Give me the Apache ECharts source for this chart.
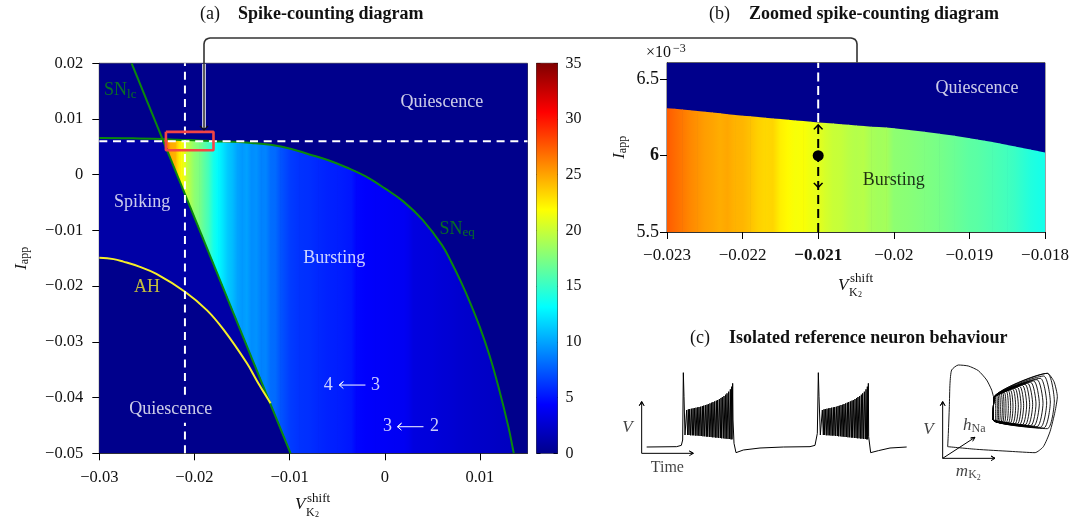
<!DOCTYPE html>
<html><head><meta charset="utf-8">
<style>html,body{margin:0;padding:0;background:#fff}#c{width:1085px;height:523px}</style>
<script src="https://cdn.jsdelivr.net/npm/echarts@6/dist/echarts.min.js"></script>
</head><body><div id="c"></div>
<script>
const SERIF = '"Liberation Serif","Times New Roman",serif';
const INK = '#111';
// colour scale
const jetStops = [[0,[0,0,140]],[0.125,[0,0,255]],[0.375,[0,255,255]],[0.625,[255,255,0]],[0.875,[255,0,0]],[1,[128,0,0]]];
const colorMax = 35;
// ticks
const mainXTicks = [-0.03,-0.02,-0.01,0,0.01];
const mainYTicks = [-0.05,-0.04,-0.03,-0.02,-0.01,0,0.01,0.02];
const barTicks = [0,5,10,15,20,25,30,35];
const zoomXTicks = [-0.023,-0.022,-0.021,-0.02,-0.019,-0.018];
const zoomYTicks = [5.5,6,6.5];
// bursting region: columns of the spike-count map
const burstX = [-0.0233,-0.023,-0.0228,-0.0225,-0.022,-0.0218,-0.0215,-0.0213,-0.021,-0.0208,-0.0205,-0.0203,-0.02,-0.0195,-0.019,-0.0185,-0.018,-0.0175,-0.017,-0.0165,-0.016,-0.0155,-0.015,-0.0145,-0.014,-0.0135,-0.013,-0.0125,-0.012,-0.0115,-0.011,-0.0105,-0.0099,-0.009,-0.008,-0.007,-0.006,-0.005,-0.004,-0.0035,-0.003,-0.002,-0.001,0,0.001,0.002,0.0025,0.003,0.004,0.005,0.006,0.007,0.008,0.009,0.01,0.011,0.012,0.013,0.0135];
const burstCount = [27.5,27.5,26.5,24.8,24.5,23.3,22.2,21.6,21,19.9,19.2,18.7,18,17.4,16.3,15.4,13.8,13,12.2,11.3,10.8,10,9.6,9.9,9.2,9.4,8.8,8.9,8.1,8,7.3,6.9,6.4,6.1,6,5.7,5.5,5.4,5.2,5.1,4.5,4.3,4.2,4.1,4,3.9,3.7,3.2,3.1,3,2.8,2.7,2.5,2.4,2.3,2.2,2.1,2,2];
const burstTop = [0.00632,0.00631,0.0063,0.00629,0.00627,0.00625,0.00624,0.00623,0.00622,0.00621,0.00619,0.00618,0.00617,0.00614,0.0061,0.00606,0.00602,0.006,0.00597,0.00594,0.00591,0.00587,0.00582,0.00577,0.00571,0.00564,0.00555,0.00546,0.00537,0.00525,0.00513,0.00499,0.00467,0.00417,0.00368,0.00318,0.00265,0.002,0.0013,0.00097,0.00062,-0.0003,-0.0013,-0.00245,-0.00365,-0.00487,-0.00565,-0.00645,-0.00815,-0.0102,-0.0126,-0.0157,-0.0192,-0.0231,-0.0274,-0.0324,-0.0384,-0.0453,-0.0495];
const burstBottom = [0.00617,0.00492,0.00408,0.00282,0.00073,-0.00011,-0.00137,-0.00221,-0.00346,-0.0043,-0.00556,-0.0064,-0.00765,-0.00975,-0.01184,-0.01394,-0.01603,-0.01813,-0.02022,-0.02232,-0.02441,-0.02651,-0.0286,-0.0307,-0.03279,-0.03489,-0.03698,-0.03908,-0.04117,-0.04327,-0.04536,-0.04746,-0.05,-0.05,-0.05,-0.05,-0.05,-0.05,-0.05,-0.05,-0.05,-0.05,-0.05,-0.05,-0.05,-0.05,-0.05,-0.05,-0.05,-0.05,-0.05,-0.05,-0.05,-0.05,-0.05,-0.05,-0.05,-0.05,-0.0497];
// zoomed view columns
const zoomX = [-0.023,-0.0229,-0.0228,-0.0227,-0.0226,-0.0225,-0.0224,-0.0223,-0.0222,-0.0221,-0.022,-0.0219,-0.0218,-0.0217,-0.0216,-0.0215,-0.0214,-0.0213,-0.0212,-0.0211,-0.021,-0.0209,-0.0208,-0.0207,-0.0206,-0.0205,-0.0204,-0.0203,-0.0202,-0.0201,-0.02,-0.0198,-0.0196,-0.0194,-0.0192,-0.019,-0.0189,-0.0188,-0.0187,-0.0186,-0.0185,-0.0184,-0.0183,-0.0182,-0.0181,-0.018];
const zoomCount = [27.5,27,26.5,26,25.6,25.2,25,24.7,24.9,24.5,24.4,24,23.5,23.2,23.3,22.4,22,21.6,21.7,21.3,21,20.4,20,19.9,19.5,19.3,19.4,18.9,18.7,18.8,18,17.8,17.5,17.2,16.8,16.3,16.2,16,15.8,15.6,15.4,15.1,14.7,14.3,14,13.8];
const zoomTop = [6.31,6.307,6.303,6.298,6.293,6.288,6.283,6.278,6.272,6.267,6.262,6.258,6.253,6.249,6.244,6.24,6.235,6.231,6.227,6.222,6.218,6.214,6.21,6.206,6.202,6.198,6.194,6.19,6.187,6.184,6.18,6.168,6.156,6.143,6.13,6.114,6.106,6.098,6.09,6.08,6.07,6.06,6.05,6.04,6.03,6.02];
// region curves
const snLcX = [-0.0266,-0.0099];
const snLcY = [0.02,-0.05];
const snEqX = [-0.03,-0.0265,-0.0233,-0.0218,-0.0195,-0.018,-0.016,-0.014,-0.012,-0.0099,-0.008,-0.006,-0.004,-0.002,0,0.002,0.004,0.006,0.007,0.008,0.009,0.01,0.011,0.012,0.013,0.0135,0.01356];
const snEqY = [0.0066,0.00655,0.0064,0.00628,0.00616,0.00602,0.00591,0.00571,0.00537,0.00467,0.00368,0.00265,0.0013,-0.0003,-0.00245,-0.00487,-0.00815,-0.0126,-0.0157,-0.0192,-0.0231,-0.0274,-0.0324,-0.0384,-0.0453,-0.0495,-0.05];
const ahX = [-0.03,-0.0285,-0.02747,-0.0258,-0.024,-0.021,-0.0187,-0.0169,-0.0145,-0.0134,-0.012];
const ahY = [-0.0149,-0.01515,-0.0156,-0.0165,-0.0178,-0.021,-0.0243,-0.0279,-0.0338,-0.0371,-0.041];
// flat regions: quiescence = 0 spikes, spiking = 1 spike
const quietX = [-0.03,0.015,0.015,-0.03];
const quietY = [0.02,0.02,-0.05,-0.05];
const spikingX = [-0.03,-0.0233,-0.012,-0.0134,-0.0145,-0.0169,-0.0187,-0.021,-0.024,-0.0258,-0.02747,-0.0285,-0.03];
const spikingY = [0.0066,0.0062,-0.041,-0.0371,-0.0338,-0.0279,-0.0243,-0.021,-0.0178,-0.0165,-0.0156,-0.01515,-0.0149];
// marks
const boxX = [-0.023,-0.018,-0.018,-0.023,-0.023];
const boxY = [0.0077,0.0077,0.0044,0.0044,0.0077];
const refShift = -0.021, refCurrent = 0.006, refZoomTop = 6.22;
const arrowA = [[-0.00203,-0.03775],[-0.00477,-0.03775],[-0.00435,-0.03712],[-0.00477,-0.03775],[-0.00435,-0.03838]];
const arrowB = [[0.00407,-0.04523],[0.00134,-0.04523],[0.00176,-0.0446],[0.00134,-0.04523],[0.00176,-0.04586]];
// panel c, in sketch units
const trainTopA = [270,268,267,266,265,264,263,262,261,260,258,257,255,254,252,250,248,246,244,242,240,237,234,231,228,224,220,215,208,200,190];
const trainLow = [345,345,345,346,346,346,347,347,347,348,348,349,349,350,350,351,351,352,352,353,353,354,354,355,355,356,356,357,357,358,358];
const trainTeethX = [228,233,237,242,247,251,256,261,265,270,275,279,284,289,293,298,303,307,312,317,321,326,331,335,340,345,349,354,359,363,366];
const tipX = [1156,1160,1164,1168,1173,1178,1183,1189,1195,1201,1208,1215,1222,1229,1237,1245,1253,1262,1271,1281,1291,1301,1312];
const tipY = [229,227,225,223,221,219,217,214,212,210,207,205,202,199,196,193,190,187,183,179,175,168,160];
const lowY = [301,302,303,304,305,305,306,307,308,309,310,311,312,313,314,315,316,317,318,320,322,324,326];
const bulgeX = [1157,1162,1166,1171,1177,1182,1188,1195,1202,1209,1217,1225,1233,1241,1250,1259,1268,1278,1288,1299,1310,1321,1333];

const jet = v => {
  const t = Math.max(0, Math.min(1, v / colorMax));
  for (let i = 1; i < jetStops.length; i++) {
    if (t <= jetStops[i][0]) {
      const [a, ca] = jetStops[i-1], [b, cb] = jetStops[i], f = (t-a)/(b-a);
      return 'rgb(' + ca.map((c,k)=>Math.round(c+(cb[k]-c)*f)).join(',') + ')';
    }
  }
  return 'rgb(128,0,0)';
};
const zip = (a,b) => a.map((v,i)=>[v,b[i]]);
const strips = (xs, cs, tops, bots) => xs.slice(0,-1).map((x,i)=>[x,xs[i+1],bots[i],tops[i],bots[i+1],tops[i+1],cs[i],cs[i+1]]);
const stripRender = (p, api) => {
  const a = api.coord([api.value(0),api.value(3)]), b = api.coord([api.value(1),api.value(5)]),
        c = api.coord([api.value(1),api.value(4)]), d = api.coord([api.value(0),api.value(2)]);
  return {type:'polygon', shape:{points:[a,[b[0]+0.7,b[1]],[c[0]+0.7,c[1]],d]},
    style:{fill:new echarts.graphic.LinearGradient(a[0],0,b[0],0,[{offset:0,color:jet(api.value(6))},{offset:1,color:jet(api.value(7))}],true)}};
};
const txt = (v,y,text,color,size) => ({value:[v,y],label:{formatter:text,color:color||'#fff',fontSize:size||18}});
const rich = {
  greenBig:{fontFamily:SERIF,fontSize:18,color:'#0a8a0a'},
  greenSub:{fontFamily:SERIF,fontSize:13,color:'#0a8a0a',padding:[7,0,0,0]},
  it:{fontFamily:SERIF,fontSize:17,fontStyle:'italic',color:INK},
  itSub:{fontFamily:SERIF,fontSize:12,color:INK,padding:[7,0,0,0]},
  itSub2:{fontFamily:SERIF,fontSize:8,color:INK,padding:[12,0,0,0]}
};
const annotate = (xi,yi,data) => ({type:'scatter',xAxisIndex:xi,yAxisIndex:yi,symbolSize:0,silent:true,z:20,
  data,label:{show:true,position:'inside',fontFamily:SERIF,rich},labelLayout:{hideOverlap:false}});
const line = (xi,yi,pts,color,width,extra) => Object.assign({type:'line',xAxisIndex:xi,yAxisIndex:yi,data:pts,showSymbol:false,symbol:'none',silent:true,animation:false,
  lineStyle:{color,width,cap:'butt'},z:10},extra||{});
const dashed = (xi,yi,pts,color,width,dash) => line(xi,yi,pts,color,width,{lineStyle:{color,width,type:dash,cap:'butt'}});
const tickFmt = v => String(v).replace('-','\u2212');
const axis = (min,max,ticks,extra) => Object.assign({type:'value',min,max,splitLine:{show:false},
  axisLine:{show:true,onZero:false,lineStyle:{color:'#333',width:1}},
  axisTick:{show:true,length:7,customValues:ticks,lineStyle:{color:'#000',width:1}},
  axisLabel:{customValues:ticks,formatter:tickFmt,color:INK,fontFamily:SERIF,fontSize:16.5,margin:16,hideOverlap:false}},extra||{});
const hidden = (min,max,extra) => Object.assign({type:'value',min,max,show:false},extra||{});
const iName = {name:'{it|I}{itSub|app}',nameLocation:'middle',nameRotate:90,nameTextStyle:{rich}};
const boldRich = s => ({b:{fontFamily:SERIF,fontSize:s,fontWeight:'bold',color:INK}});

// panel c trace
const burst = off => trainTeethX.flatMap((x,i)=>[[x+off,trainLow[i]],[x+2+off,trainTopA[i]]]);
const trace = [[110,381],[200,380],[214,376],[218,360],[220,158],[222,230],[225,345],...burst(0),[369,300],[372,370],[378,398],[400,390],[450,384],[520,381],[600,380],[615,376],[622,340],[625,158],[627,230],[631,345],...burst(407),[773,190],[776,350],[782,398],[805,392],[840,384],[890,381]];
const portrait = [[1013,380],[1015,340],[1018,260],[1020,190],[1025,150],[1045,135],[1075,138],[1105,152],[1130,180],[1145,210],[1152,232],
  ...tipX.flatMap((x,i)=>[[x,tipY[i]],[bulgeX[i],Math.round((tipY[i]+lowY[i])/2)],[x,lowY[i]],[1150,300],[1152,232]]),
  [1312,160],[1332,185],[1342,230],[1335,275],[1320,335],[1300,380],[1275,398],[1200,394],[1100,388],[1013,380]];
const axes2 = [[95,245],[88,257],[95,245],[102,257],[95,245],[95,400],[250,400],[238,393],[250,400],[238,407]];
const axes3a = [[998,245],[991,257],[998,245],[1005,257],[998,245],[998,415],[1155,415],[1143,408],[1155,415],[1143,422]];
const axes3b = [[998,415],[1095,352],[1082,354],[1095,352],[1088,364]];
const connector = [[204,128],[204,44],[204.5,41.5],[206,39.5],[208,38.5],[210,38],[851,38],[853,38.5],[855,39.5],[856.5,41.5],[857,44],[857,62.5]];

const option = {
  animation:false, backgroundColor:'#fff',
  grid:[
    {left:99.3,top:63.3,width:428.2,height:390,show:true,borderColor:'#444',borderWidth:1,backgroundColor:'transparent'},
    {left:536.5,top:63.3,width:21,height:390,show:true,borderColor:'#444',borderWidth:1},
    {left:667,top:62.7,width:378,height:169.3,show:true,borderColor:'#444',borderWidth:1},
    {left:610,top:320,width:475,height:203}
  ],
  xAxis:[
    axis(-0.03,0.015,mainXTicks,{gridIndex:0}),
    hidden(0,1,{gridIndex:1}),
    axis(-0.023,-0.018,zoomXTicks,{gridIndex:2,axisLabel:{customValues:zoomXTicks,formatter:v=>v===refShift?'{b|'+tickFmt(v)+'}':tickFmt(v),color:INK,fontFamily:SERIF,fontSize:17,margin:15,hideOverlap:false,rich:boldRich(17)}}),
    hidden(0,1425,{gridIndex:3})
  ],
  yAxis:[
    axis(-0.05,0.02,mainYTicks,Object.assign({gridIndex:0,nameGap:68},iName)),
    axis(0,colorMax,barTicks,{gridIndex:1,position:'right',axisTick:{show:true,inside:true,length:4,customValues:barTicks,lineStyle:{color:'#000'}},axisLabel:{customValues:barTicks,color:INK,fontFamily:SERIF,fontSize:16,margin:8,hideOverlap:false}}),
    hidden(0,colorMax,{gridIndex:1,show:true,position:'left',axisLine:{show:false},splitLine:{show:false},axisLabel:{show:false},axisTick:{show:true,inside:true,length:4,customValues:barTicks,lineStyle:{color:'#000'}}}),
    axis(5.5,6.609,zoomYTicks,Object.assign({gridIndex:2,nameGap:38},iName,{axisLabel:{customValues:zoomYTicks,formatter:v=>v===6?'{b|6}':String(v),color:INK,fontFamily:SERIF,fontSize:18,margin:8,hideOverlap:false,rich:boldRich(18)}})),
    hidden(0,609,{gridIndex:3,inverse:true})
  ],
  series:[
    {type:'custom',xAxisIndex:0,yAxisIndex:0,clip:true,silent:true,z:1,data:[[0,0]],
      renderItem:(p,api)=>({type:'polygon',shape:{points:quietX.map((x,i)=>api.coord([x,quietY[i]]))},style:{fill:jet(0)}})},
    {type:'custom',xAxisIndex:0,yAxisIndex:0,clip:true,silent:true,z:2,data:[[1,0]],
      renderItem:(p,api)=>({type:'polygon',shape:{points:spikingX.map((x,i)=>api.coord([x,spikingY[i]]))},style:{fill:jet(api.value(0))}})},
    {type:'custom',xAxisIndex:0,yAxisIndex:0,clip:true,silent:true,z:3,encode:{x:[0,1],y:[2,3]},
      data:strips(burstX,burstCount,burstTop,burstBottom),renderItem:stripRender},
    line(0,0,zip(snLcX,snLcY),'#0a8a0a',2),
    line(0,0,zip(snEqX,snEqY),'#0a8a0a',2,{smooth:0.4}),
    line(0,0,zip(ahX,ahY),'#f5ee28',2,{smooth:0.4}),
    dashed(0,0,[[refShift,-0.05],[refShift,-0.0445],[null,null],[refShift,-0.0395],[refShift,0.02]],'#fff',2,[8,5.7]),
    dashed(0,0,[[-0.03,refCurrent],[0.015,refCurrent]],'#fff',2,[8,5.7]),
    line(0,0,zip(boxX,boxY),'#f24545',2.6,{z:12}),
    line(0,0,arrowA,'#fff',1),
    line(0,0,arrowB,'#fff',1),
    annotate(0,0,[
      txt(-0.0278,0.0151,'{greenBig|SN}{greenSub|lc}'),
      txt(0.0060,0.0130,'Quiescence'),
      txt(-0.0255,-0.0049,'Spiking'),
      txt(-0.0053,-0.0150,'Bursting'),
      txt(0.0076,-0.0098,'{greenBig|SN}{greenSub|eq}'),
      txt(-0.025,-0.0202,'AH','#f5ee28'),
      txt(-0.0225,-0.0421,'Quiescence'),
      txt(-0.00593,-0.03775,'4'),
      txt(-0.00098,-0.03775,'3'),
      txt(0.00028,-0.04523,'3'),
      txt(0.00523,-0.04523,'2')
    ]),
    {type:'custom',xAxisIndex:1,yAxisIndex:1,silent:true,z:3,data:[[0,0]],
      renderItem:(p,api)=>{
        const a=api.coord([0,colorMax]), b=api.coord([1,0]);
        return {type:'rect',shape:{x:a[0],y:a[1],width:b[0]-a[0],height:b[1]-a[1]},
          style:{fill:new echarts.graphic.LinearGradient(0,1,0,0,jetStops.map(([o,c])=>({offset:o,color:'rgb('+c.join(',')+')'})))}};
      }},
    {type:'custom',xAxisIndex:2,yAxisIndex:3,clip:true,silent:true,z:1,data:[[0,0]],
      renderItem:(p,api)=>{
        const a=api.coord([-0.023,6.609]), b=api.coord([-0.018,5.5]);
        return {type:'rect',shape:{x:a[0],y:a[1],width:b[0]-a[0],height:b[1]-a[1]},style:{fill:jet(0)}};
      }},
    {type:'custom',xAxisIndex:2,yAxisIndex:3,clip:true,silent:true,z:3,encode:{x:[0,1],y:[2,3]},
      data:strips(zoomX,zoomCount,zoomTop,zoomX.map(()=>5.5)),renderItem:stripRender},
    dashed(2,3,[[refShift,refZoomTop],[refShift,6.609]],'#fff',2,[9,4.5]),
    dashed(2,3,[[refShift,5.5],[refShift,refZoomTop]],'#000',2,[9,5]),
    {type:'scatter',xAxisIndex:2,yAxisIndex:3,silent:true,z:15,symbolSize:11,itemStyle:{color:'#000',opacity:1},data:[[refShift,6]]},
    {type:'scatter',xAxisIndex:2,yAxisIndex:3,silent:true,z:15,symbol:'path://M0 7 L6 0 L12 7 L10.5 8 L6 3 L1.5 8 Z',symbolSize:[10,6],itemStyle:{color:'#000',opacity:1},data:[{value:[refShift,6.19]},{value:[refShift,5.805],symbolRotate:180}]},
    annotate(2,3,[
      txt(-0.0189,6.44,'Quiescence'),
      txt(-0.02,5.84,'Bursting','#000')
    ]),
    line(3,4,trace,'#000',1),
    line(3,4,portrait,'#000',0.9,{smooth:0.2}),
    line(3,4,axes2,'#000',1),
    line(3,4,axes3a,'#000',1),
    line(3,4,axes3b,'#000',1),
    annotate(3,4,[
      txt(52,322,'{it|V}'),
      txt(172,443,'Time',INK,16),
      txt(955,328,'{it|V}'),
      txt(1093,316,'{it|h}{itSub|Na}'),
      txt(1075,455,'{it|m}{itSub|K}{itSub2|2}')
    ])
  ],
  graphic:[
    {type:'polyline',silent:true,z:30,shape:{points:[[204,64],[204,128]]},style:{stroke:'#fff',lineWidth:3.5,fill:null}},
    {type:'polyline',silent:true,z:31,shape:{points:connector},style:{stroke:'#333',lineWidth:1.6,fill:null}},
    {type:'polyline',silent:true,z:31,shape:{points:[[200,126],[204,130],[208,126]]},style:{stroke:'#111',lineWidth:1.2,fill:null}},
    ...[[200,14,'(a)',false],[238,14,'Spike-counting diagram',true],[709,14,'(b)',false],[749,14,'Zoomed spike-counting diagram',true],[690,338,'(c)',false],[729,338,'Isolated reference neuron behaviour',true]]
      .map(([x,y,t,b])=>({type:'text',x,y,silent:true,z:30,style:{text:t,fontFamily:SERIF,fontSize:18,fontWeight:b?'bold':'normal',fill:INK,verticalAlign:'middle',align:'left'}})),
    ...[[295,505,307,499,306,513],[838,286,850,279,849,293]].flatMap(([vx,vy,sx,sy,kx,ky])=>[
      {type:'text',x:vx,y:vy,silent:true,z:30,style:{text:'V',fontFamily:SERIF,fontSize:17,fontStyle:'italic',fill:INK,verticalAlign:'middle'}},
      {type:'text',x:sx,y:sy,silent:true,z:30,style:{text:'shift',fontFamily:SERIF,fontSize:13,fill:INK,verticalAlign:'middle'}},
      {type:'text',x:kx,y:ky,silent:true,z:30,style:{text:'K',fontFamily:SERIF,fontSize:12,fill:INK,verticalAlign:'middle'}},
      {type:'text',x:kx+9,y:ky+2,silent:true,z:30,style:{text:'2',fontFamily:SERIF,fontSize:8,fill:INK,verticalAlign:'middle'}}
    ]),
    {type:'text',x:646,y:53,silent:true,z:30,style:{text:'\u00D710',fontFamily:SERIF,fontSize:16,fill:INK,verticalAlign:'middle'}},
    {type:'text',x:673,y:49,silent:true,z:30,style:{text:'\u22123',fontFamily:SERIF,fontSize:12,fill:INK,verticalAlign:'middle'}}
  ]
};
const chart = echarts.init(document.getElementById('c'),null,{renderer:'canvas'});
chart.setOption(option);
</script></body></html>
